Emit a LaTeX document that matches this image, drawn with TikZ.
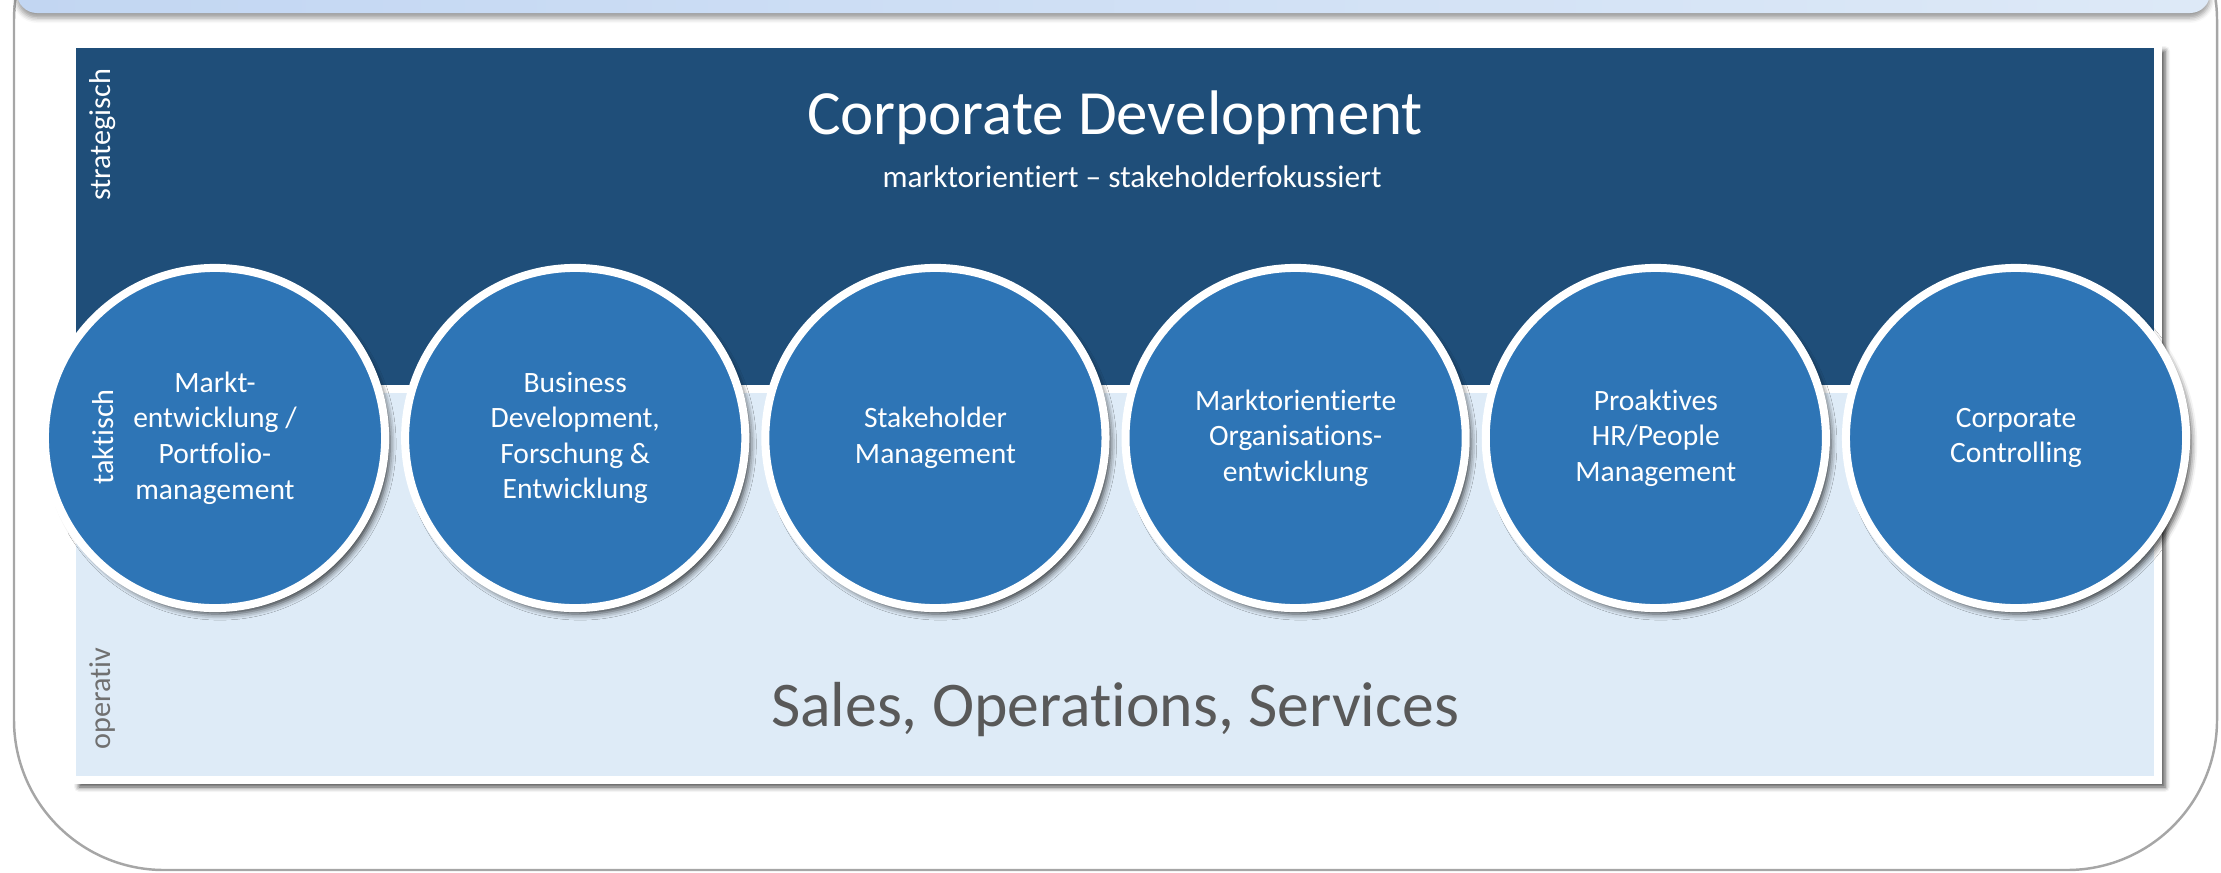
\documentclass[tikz,border=0pt]{standalone}
\usepackage{fontspec}
\setmainfont[Ligatures=NoCommon]{Carlito}
\usepackage{tikz}
\usetikzlibrary{positioning}
\usetikzlibrary{shadows.blur}
\definecolor{stratblue}{HTML}{1F4E79}
\definecolor{opsblue}{HTML}{DEEBF7}
\definecolor{areablue}{HTML}{2E75B6}
\definecolor{textgray}{HTML}{595959}
\definecolor{labelgray}{HTML}{707070}
\definecolor{framegray}{HTML}{A6A6A6}
\definecolor{bannerL}{HTML}{C2D6F2}
\definecolor{bannerR}{HTML}{DDE9F7}
\tikzset{band/.style={draw=white,line width=0.08cm,blur shadow={shadow xshift=0.07cm,shadow yshift=-0.07cm,shadow blur radius=0.05cm,shadow opacity=70}}}
\tikzset{area/.style={circle,fill=areablue,draw=white,line width=0.08cm,minimum size=3.40cm,inner sep=0pt,align=center,text=white,font=\fontsize{8.4}{10.1}\selectfont,blur shadow={shadow xshift=0.05cm,shadow yshift=-0.06cm,shadow blur radius=0.06cm,shadow opacity=75}}}
\tikzset{level/.style={rotate=90,inner sep=0pt,font=\fontsize{8.6}{10}\selectfont}}

\begin{document}
\begin{tikzpicture}[x=0.01cm,y=-0.01cm,node distance=0.12cm]
    \useasboundingbox (0,0) rectangle (2221,872);
    % frame and banner
    \draw[framegray, line width=0.7pt, rounded corners=1.5cm] (14,-130) rectangle (2217,870);
    \path[left color=bannerL, right color=bannerR, rounded corners=0.2cm,
          blur shadow={shadow xshift=0cm,shadow yshift=-0.05cm,shadow blur radius=0.05cm}] (17,-30) rectangle (2210,13);
    % the two bands
    \filldraw[band, fill=stratblue] (72,44) rectangle (2158,389);
    \filldraw[band, fill=opsblue] (72,389) rectangle (2158,780);
    \node[text=white, font=\fontsize{17.9}{21}\selectfont, anchor=base] (title) at (1115,134) {Corporate Development};
    \node[text=white, font=\fontsize{8.9}{10}\selectfont, anchor=base] (sub) at (1132,187) {marktorientiert – stakeholderfokussiert};
    \node[text=textgray, font=\fontsize{18.1}{21}\selectfont, anchor=base] (ops) at (1115,726) {Sales, Operations, Services};
    % circles
    \node[area] (mkt) at (215,438) {Markt-\\entwicklung /\\Portfolio-\\management};
    \node[area, right=of mkt] (bizdev) {Business\\Development,\\Forschung \&\\Entwicklung};
    \node[area, right=of bizdev] (stake) {Stakeholder\\Management};
    \node[area, right=of stake] (orga) {Marktorientierte\\Organisations-\\entwicklung};
    \node[area, right=of orga] (hr) {Proaktives\\HR/People\\Management};
    \node[area, right=of hr] (ctrl) {Corporate\\Controlling};
    % levels
    \node[level, text=white, anchor=east] (lstrat) at (103,68) {strategisch};
    \node[level, text=white] (ltakt) at (103,437) {taktisch};
    \node[level, text=labelgray, anchor=west] (lops) at (103,750) {operativ};
\end{tikzpicture}
\end{document}
